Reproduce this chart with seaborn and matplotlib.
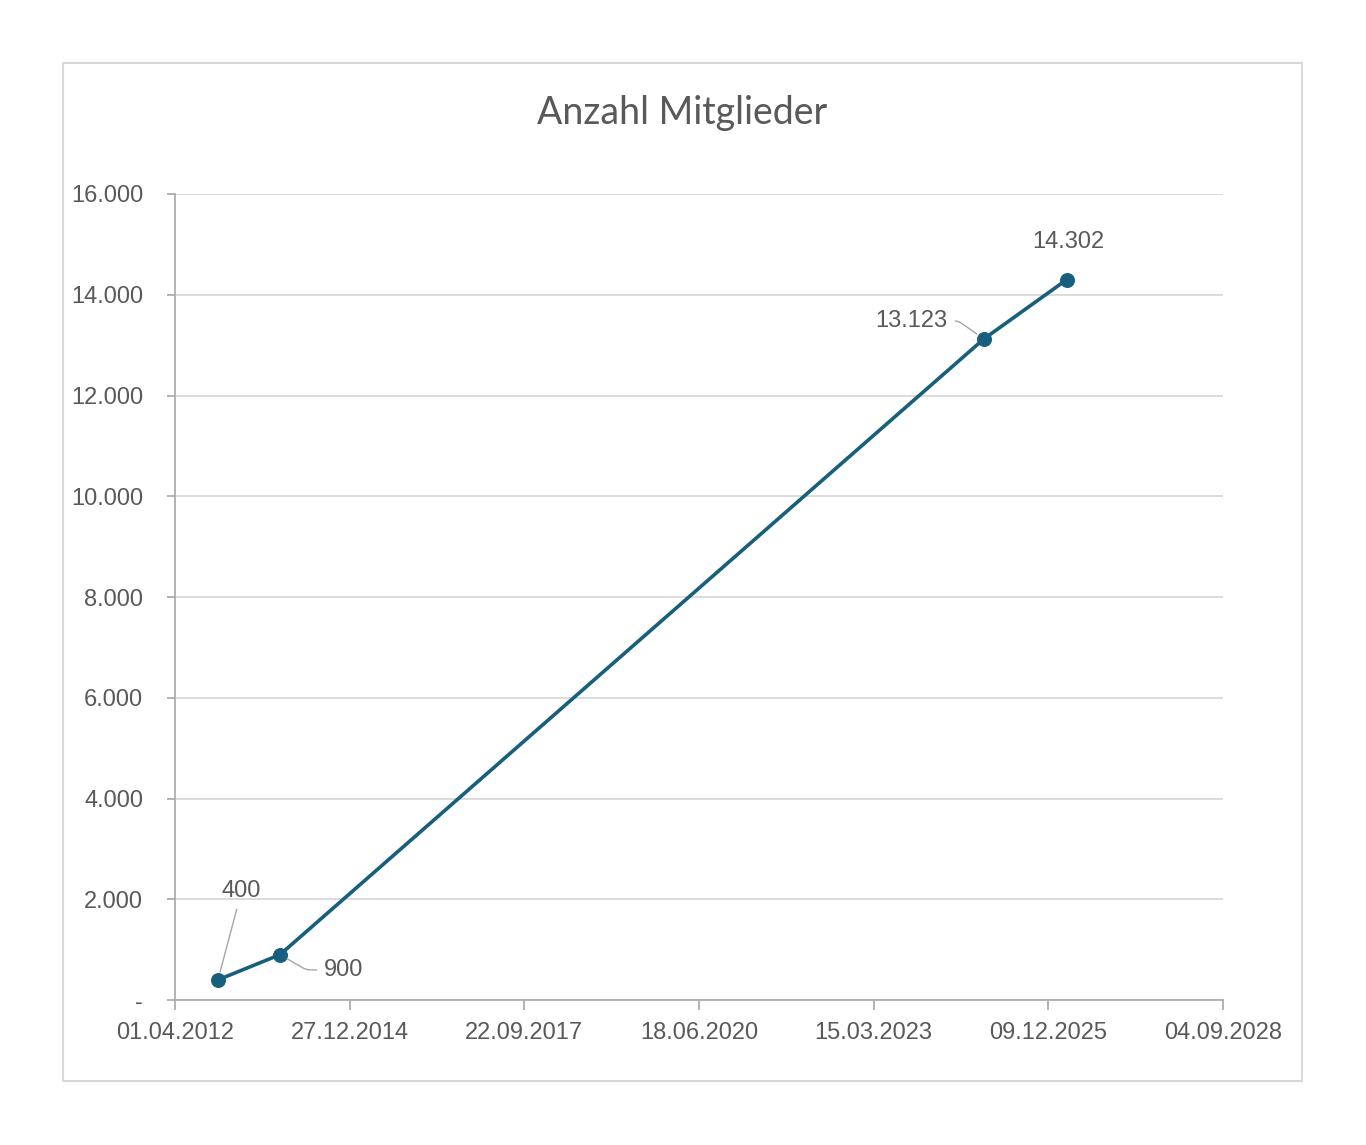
import matplotlib
matplotlib.use("Agg")
import matplotlib.pyplot as plt
import matplotlib.dates as mdates
from matplotlib.patches import Rectangle
from matplotlib.ticker import FixedLocator, FuncFormatter
import pandas as pd
import seaborn as sns

# data (dates)
dates = ["2012-12-03", "2013-11-23", "2024-12-05", "2026-03-25"]
members = [400, 900, 13123, 14302]
# label offsets in points (dx, dy) relative to each marker, and leader style
label_offsets = [(17, 64), (46, -11), (-52, 13), (1, 27)]
leaders = [None, "angle,angleA=0,angleB=-30,rad=4", "angle,angleA=0,angleB=-35,rad=4", False]

x_start = "2012-04-01"
x_end = "2028-09-04"
x_step_days = 1000
y_ticks = [0, 2000, 4000, 6000, 8000, 10000, 12000, 14000, 16000]

LINE = "#175F7D"
TEXT = "#595959"
GRID = "#D9D9D9"
AXIS = "#ADADAD"

sns.set_theme(style="white")
plt.rcParams["font.family"] = ["Liberation Sans", "DejaVu Sans"]

df = pd.DataFrame({"date": pd.to_datetime(dates), "members": members})


def de_number(v: float) -> str:
    if v == 0:
        return "-"
    return f"{v:,.0f}".replace(",", ".")


fig = plt.figure(figsize=(13.66, 11.45), dpi=100)
fig.patch.set_facecolor("white")

# chart area frame
fig.patches.append(
    Rectangle((63 / 1366, 1 - 1081 / 1145), 1239 / 1366, 1018 / 1145,
              transform=fig.transFigure, fill=False, edgecolor="#D9D9D9", lw=1.5)
)

ax = fig.add_axes([175 / 1366, 1 - 1000 / 1145, 1048 / 1366, 806 / 1145])
ax.set_facecolor("none")

sns.lineplot(data=df, x="date", y="members", ax=ax, color=LINE, lw=2.6,
             marker="o", markersize=10, markeredgecolor=LINE, zorder=3)

x0 = pd.Timestamp(x_start)
x1 = pd.Timestamp(x_end)
xticks = pd.date_range(x0, x1, freq=f"{x_step_days}D")
ax.set_xlim(mdates.date2num(x0), mdates.date2num(x1))
ax.xaxis.set_major_locator(FixedLocator(mdates.date2num(xticks)))
ax.xaxis.set_major_formatter(mdates.DateFormatter("%d.%m.%Y"))

ax.set_ylim(y_ticks[0], y_ticks[-1])
ax.yaxis.set_major_locator(FixedLocator(y_ticks))
ax.yaxis.set_major_formatter(FuncFormatter(lambda v, _: de_number(v)))

ax.grid(axis="y", color=GRID, lw=1.3)
ax.grid(axis="x", visible=False)
ax.set_axisbelow(True)

for side in ["top", "right"]:
    ax.spines[side].set_visible(False)
for side in ["left", "bottom"]:
    ax.spines[side].set_color(AXIS)
    ax.spines[side].set_linewidth(1.3)

ax.tick_params(axis="x", length=7, width=1.3, color=AXIS, pad=9,
               labelsize=17, labelcolor=TEXT, bottom=True)
ax.tick_params(axis="y", length=6, width=1.3, color=AXIS, pad=17,
               labelsize=17, labelcolor=TEXT, left=True)
ax.set_xlabel("")
ax.set_ylabel("")

for d, v, off, lead in zip(df["date"], members, label_offsets, leaders):
    props = None
    if lead is not False:
        props = dict(arrowstyle="-", color="#A6A6A6", lw=1.0, shrinkA=3, shrinkB=6)
        if lead:
            props["connectionstyle"] = lead
    ax.annotate(de_number(v), xy=(mdates.date2num(d), v), xytext=off,
                textcoords="offset points", ha="center", va="center",
                fontsize=17, color=TEXT, arrowprops=props, zorder=4)

fig.text(682 / 1366, 1 - 113 / 1145, "Anzahl Mitglieder", ha="center", va="center",
         fontsize=27, color=TEXT, family=["Lato", "DejaVu Sans"])

fig.savefig("out.png", dpi=100, facecolor="white")
